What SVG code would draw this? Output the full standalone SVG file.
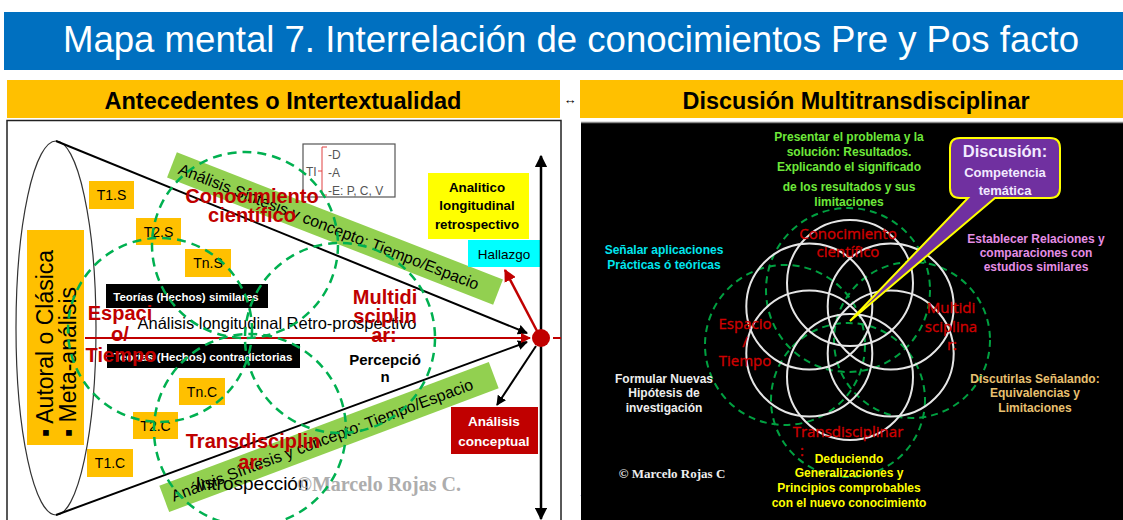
<svg xmlns="http://www.w3.org/2000/svg" width="1123" height="520" viewBox="0 0 1123 520">
<defs>
<marker id="mk" viewBox="0 0 10 10" refX="9" refY="5" markerWidth="5" markerHeight="5" orient="auto-start-reverse"><path d="M0,0 L10,5 L0,10 z" fill="#000"/></marker>
<marker id="mkr" viewBox="0 0 10 10" refX="9" refY="5" markerWidth="5" markerHeight="5" orient="auto-start-reverse"><path d="M0,0 L10,5 L0,10 z" fill="#C00000"/></marker>
</defs>
<style>
text{font-family:"Liberation Sans",Arial,"DejaVu Sans",sans-serif}
.b{font-weight:bold}
.mid{text-anchor:middle}
.or{fill:#FFC000}
.ot{font-size:14px;fill:#000;text-anchor:middle}
.dl{fill:none;stroke:#00B050;stroke-width:2.5;stroke-dasharray:9 6}
.dr{fill:none;stroke:#00A040;stroke-width:2;stroke-dasharray:7 5}
.wc{fill:none;stroke:#E6E6E6;stroke-width:2}
.rl{font-weight:bold;font-size:20px;fill:#C00000;text-anchor:middle}
.rr{font-family:"Open Sans","Liberation Sans",sans-serif;font-size:15px;fill:#D00000;stroke:#D00000;stroke-width:0.35;text-anchor:middle}
.rt{font-weight:bold;font-size:12px;text-anchor:middle}
.band{fill:#92D050}
.bt{font-size:16px;fill:#000}
.blk{fill:#000}
.wt{fill:#fff;font-weight:bold;font-size:11.5px}
</style>
<rect x="0" y="0" width="1123" height="520" fill="#fff"/>

<g id="title">
<rect x="4" y="12" width="1119" height="58" fill="#0070C0"/>
<text x="571" y="52" class="mid" font-size="36" fill="#fff" textLength="1016" lengthAdjust="spacingAndGlyphs">Mapa mental 7. Interrelación de conocimientos Pre y Pos facto</text>
</g>

<g id="header-left">
<rect x="7" y="80" width="553" height="38" class="or"/>
<text x="283" y="109" class="b mid" font-size="23" textLength="357" lengthAdjust="spacingAndGlyphs">Antecedentes o Intertextualidad</text>
</g>
<g id="header-arrow"><text x="570" y="104" class="b mid" font-size="13">↔</text></g>
<g id="header-right">
<rect x="580" y="80" width="543" height="38" class="or"/>
<text x="856" y="109" class="b mid" font-size="23" textLength="347" lengthAdjust="spacingAndGlyphs">Discusión Multitransdisciplinar</text>
</g>

<!-- LEFT PANEL -->
<g id="panel-left">
<rect x="7" y="120.5" width="554" height="402" fill="#fff" stroke="#222" stroke-width="1.5"/>
<ellipse cx="56" cy="328" rx="40" ry="187" fill="none" stroke="#333" stroke-width="1.2"/>
</g>

<g id="band-top" transform="translate(335,228.5) rotate(21.3)">
<rect x="-175" y="-13.5" width="350" height="27" class="band"/>
<text x="-167" y="6" class="bt">Análisis Síntesis y concepto: Tiempo/Espacio</text>
</g>
<g id="band-bottom" transform="translate(329,437) rotate(-20.6)">
<rect x="-176" y="-14" width="352" height="28" class="band"/>
<text x="-168" y="6" class="bt">Análisis Síntesis y concepto: Tiempo/Espacio</text>
</g>

<g id="label-vertical">
<rect x="27" y="230" width="57" height="215" class="or"/>
<text transform="translate(53,437) rotate(-90)" font-size="23">▪ Autoral o Clásica</text>
<text transform="translate(76,437) rotate(-90)" font-size="23">▪ Meta-análisis</text>
</g>

<g id="t1s"><rect x="89" y="181" width="45" height="28" class="or"/><text x="111.5" y="200" class="ot">T1.S</text></g>
<g id="t2s"><rect x="136" y="218" width="45" height="27" class="or"/><text x="158.5" y="236.5" class="ot">T2.S</text></g>
<g id="tns"><rect x="185" y="249" width="46" height="28" class="or"/><text x="208" y="268" class="ot">Tn.S</text></g>
<g id="tnc"><rect x="179" y="378" width="46" height="27" class="or"/><text x="202" y="396.5" class="ot">Tn.C</text></g>
<g id="t2c"><rect x="133" y="412" width="45" height="27" class="or"/><text x="155.5" y="430.5" class="ot">T2.C</text></g>
<g id="t1c"><rect x="87" y="449" width="46" height="28" class="or"/><text x="110" y="468" class="ot">T1.C</text></g>

<g id="teorias-similares"><rect x="106" y="284" width="162" height="24" class="blk"/><text x="186" y="301" class="wt mid">Teorías (Hechos) similares</text></g>
<g id="teorias-contradictorias"><rect x="107" y="344" width="193" height="24" class="blk"/><text x="203" y="361" class="wt mid">Teorías (Hechos) contradictorias</text></g>

<g id="ti-box">
<rect x="303" y="144" width="92" height="53" fill="#fff" stroke="#555" stroke-width="1.2"/>
<text x="306" y="176" font-size="12" fill="#555">TI</text>
<path d="M327,147 H322 V195 H327 M322,171 H318" fill="none" stroke="#E04040" stroke-width="1"/>
<text x="328" y="159" font-size="12" fill="#555">-D</text>
<text x="328" y="177" font-size="12" fill="#555">-A</text>
<text x="328" y="195" font-size="12" fill="#555">-E: P, C, V</text>
</g>

<g id="analitico"><rect x="428" y="173" width="101" height="66" fill="#FFFF00"/>
<text x="477" y="192" class="b mid" font-size="13.3">Analitico</text>
<text x="477" y="210" class="b mid" font-size="13.3">longitudinal</text>
<text x="477" y="229" class="b mid" font-size="13.3">retrospectivo</text></g>
<g id="hallazgo"><rect x="468" y="240" width="72" height="27" fill="#00FFFF"/><text x="504" y="259" class="mid" font-size="13.5">Hallazgo</text></g>
<g id="analisis-conceptual"><rect x="451" y="407" width="87" height="47" fill="#C00000"/>
<text x="494" y="426" class="b mid" font-size="13.5" fill="#fff">Análisis</text>
<text x="494" y="446" class="b mid" font-size="13.5" fill="#fff">conceptual</text></g>

<g id="connectors">
<line x1="56" y1="141" x2="527" y2="333" stroke="#000" stroke-width="2" marker-end="url(#mk)"/>
<line x1="56" y1="515" x2="527" y2="342" stroke="#000" stroke-width="2" marker-end="url(#mk)"/>
<line x1="85" y1="338" x2="530" y2="338" stroke="#C00000" stroke-width="2" marker-end="url(#mkr)"/>
<line x1="541" y1="156" x2="541" y2="519" stroke="#000" stroke-width="2.5" marker-start="url(#mk)" marker-end="url(#mk)"/>
<line x1="537" y1="331" x2="505" y2="270" stroke="#C00000" stroke-width="2.5" marker-end="url(#mkr)"/>
<line x1="536" y1="346" x2="497" y2="405" stroke="#000" stroke-width="2" marker-end="url(#mk)"/>
<line x1="553" y1="338" x2="561" y2="338" stroke="#C00000" stroke-width="2"/>
<line x1="581" y1="495" x2="615" y2="520" stroke="#1A1AA0" stroke-width="1.5"/>
</g>
<g id="red-dot"><circle cx="541" cy="338" r="9" fill="#C00000"/></g>

<g id="left-texts">
<text x="277" y="329" font-size="16.5" textLength="279" lengthAdjust="spacingAndGlyphs" class="mid">Análisis longitudinal Retro-prospectivo</text>
<text x="385" y="365" class="b mid" font-size="15">Percepció</text>
<text x="385" y="382" class="b mid" font-size="15">n</text>
<text x="252" y="490" class="mid" font-size="19">Introspección</text>
<text x="379" y="491" class="mid" font-size="20" font-weight="bold" fill="#ADADAD" style="font-family:'Liberation Serif',serif">©Marcelo Rojas C.</text>
</g>

<g id="dashed-left">
<circle cx="245" cy="245" r="93" class="dl"/>
<circle cx="160" cy="330" r="92" class="dl"/>
<circle cx="340" cy="338" r="95" class="dl"/>
<circle cx="250" cy="430" r="96" class="dl"/>
</g>

<g id="red-left">
<text x="252" y="203" class="rl">Conocimiento</text>
<text x="252" y="222" class="rl">científico</text>
<text x="120" y="320" class="rl">Espaci</text>
<text x="120" y="341" class="rl">o/</text>
<text x="121" y="362" class="rl">Tiempo</text>
<text x="385" y="304" class="rl">Multidi</text>
<text x="385" y="323" class="rl">sciplin</text>
<text x="384" y="342" class="rl">ar:</text>
<text x="253" y="448" class="rl">Transdisciplin</text>
<text x="251" y="469" class="rl">ar:</text>
</g>

<!-- RIGHT PANEL -->
<g id="panel-right">
<rect x="581" y="122" width="542" height="398" fill="#000"/>
<line x1="581" y1="122.5" x2="1123" y2="122.5" stroke="#888" stroke-width="1.5"/>
</g>

<g id="dashed-right">
<circle cx="848" cy="290" r="82" class="dr"/>
<circle cx="785" cy="345" r="80" class="dr"/>
<circle cx="912" cy="340" r="78" class="dr"/>
<circle cx="848" cy="400" r="77" class="dr"/>
</g>

<g id="flower">
<circle cx="850" cy="283" r="63" class="wc"/>
<circle cx="890.7" cy="306.5" r="63" class="wc"/>
<circle cx="890.7" cy="353.5" r="63" class="wc"/>
<circle cx="850" cy="377" r="63" class="wc"/>
<circle cx="809.3" cy="353.5" r="63" class="wc"/>
<circle cx="809.3" cy="306.5" r="63" class="wc"/>
</g>

<g id="red-right">
<text x="848" y="239" class="rr">Conocimiento</text>
<text x="848" y="257" class="rr">científico</text>
<text x="745" y="329" class="rr">Espacio</text>
<text x="745" y="347" class="rr">/</text>
<text x="745" y="366" class="rr">Tiempo</text>
<text x="951" y="313" class="rr">Multidi</text>
<text x="951" y="332" class="rr">sciplina</text>
<text x="952" y="350" class="rr">r:</text>
<text x="848" y="437" class="rr">Transdisciplinar</text>
<text x="802" y="456" class="rr">:</text>
</g>

<g id="presentar" fill="#6EE83A">
<text x="849" y="141" class="rt">Presentar el problema y la</text>
<text x="849" y="156" class="rt">solución: Resultados.</text>
<text x="849" y="171" class="rt">Explicando el significado</text>
<text x="849" y="191" class="rt">de los resultados y sus</text>
<text x="849" y="206" class="rt">limitaciones</text>
</g>
<g id="senalar" fill="#00E5EE">
<text x="664" y="254" class="rt">Señalar aplicaciones</text>
<text x="664" y="269" class="rt">Prácticas ó teóricas</text>
</g>
<g id="establecer" fill="#E58EE5">
<text x="1036" y="243" class="rt">Establecer Relaciones y</text>
<text x="1036" y="257" class="rt">comparaciones con</text>
<text x="1036" y="271" class="rt">estudios similares</text>
</g>
<g id="formular" fill="#EEEEEE">
<text x="664" y="383" class="rt">Formular Nuevas</text>
<text x="664" y="397" class="rt">Hipótesis de</text>
<text x="664" y="412" class="rt">investigación</text>
</g>
<g id="discutirlas" fill="#E8C070">
<text x="1035" y="383" class="rt">Discutirlas Señalando:</text>
<text x="1035" y="397" class="rt">Equivalencias y</text>
<text x="1035" y="412" class="rt">Limitaciones</text>
</g>
<g id="deduciendo" fill="#FFFF00">
<text x="849" y="463" class="rt">Deduciendo</text>
<text x="849" y="477" class="rt">Generalizaciones y</text>
<text x="849" y="492" class="rt">Principios comprobables</text>
<text x="849" y="507" class="rt">con el nuevo conocimiento</text>
</g>
<g id="copyright-right"><text x="672" y="478" class="mid" font-size="13" font-weight="bold" fill="#EEEEEE" style="font-family:'Liberation Serif',serif">© Marcelo Rojas C</text></g>

<g id="discusion-callout">
<path d="M960,138 H1050 Q1060,138 1060,148 V188 Q1060,198 1050,198 H995 L850,321 L968,198 H960 Q950,198 950,188 V148 Q950,138 960,138 Z" fill="#7030A0" stroke="#FFFF00" stroke-width="2"/>
<text x="1005" y="157" class="b mid" font-size="16.5" fill="#F2EAFF">Discusión:</text>
<text x="1005" y="177" class="b mid" font-size="13" fill="#F2EAFF">Competencia</text>
<text x="1005" y="195" class="b mid" font-size="13" fill="#F2EAFF">temática</text>
</g>
</svg>
